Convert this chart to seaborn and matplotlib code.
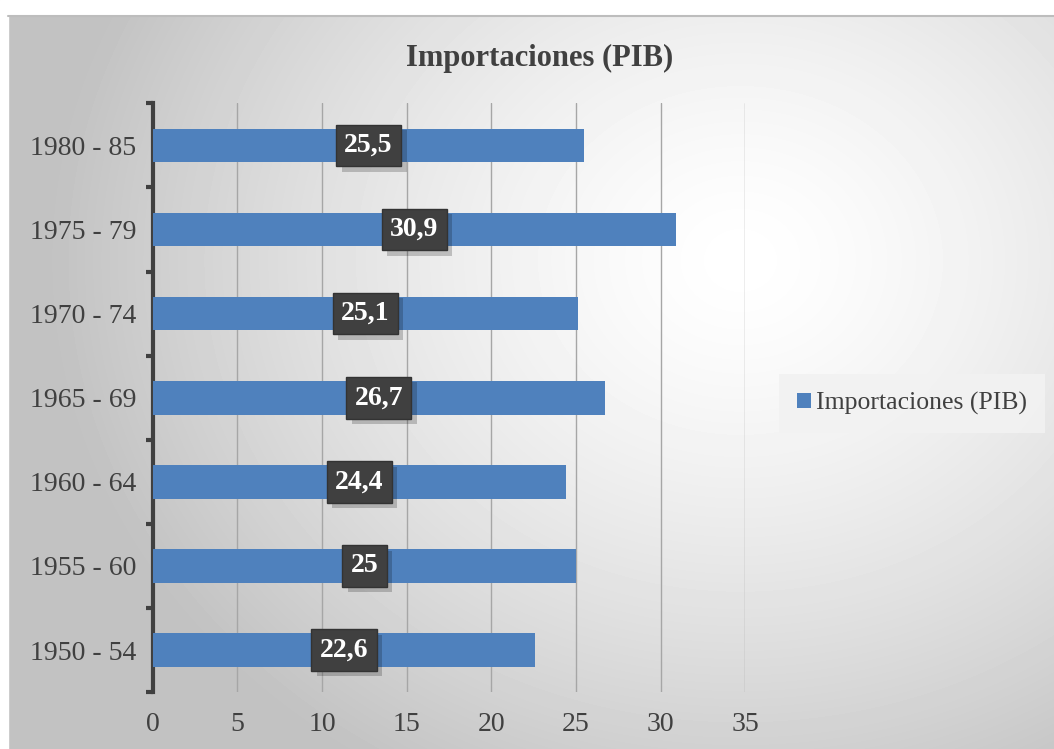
import numpy as np
import pandas as pd
import seaborn as sns
import matplotlib.pyplot as plt
import matplotlib.patheffects as pe
from matplotlib.patches import Rectangle

# Values (top to bottom)
periods = ['1980 - 85', '1975 - 79', '1970 - 74', '1965 - 69', '1960 - 64', '1955 - 60', '1950 - 54']
imports = [25.5, 30.9, 25.1, 26.7, 24.4, 25.0, 22.6]
labels = ['25,5', '30,9', '25,1', '26,7', '24,4', '25', '22,6']
x_ticks = [0, 5, 10, 15, 20, 25, 30, 35]

df = pd.DataFrame({'Periodo': periods, 'Importaciones (PIB)': imports})

sns.set_style('white')
plt.rcParams['font.family'] = ['Liberation Serif', 'DejaVu Serif']

fig = plt.figure(figsize=(10.54, 7.49), dpi=100)

# radial grey gradient background, white near the middle-right
bg = fig.add_axes([0, 0, 1, 1], zorder=-10)
yy, xx = np.mgrid[0:749, 0:1054]
d = np.sqrt(((xx - 740) / 650.0) ** 2 + ((yy - 260) / 560.0) ** 2)
shade = np.clip(1.0 - 0.22 * d ** 1.4, 0.76, 1.0)
bg.imshow(shade, cmap='gray', vmin=0, vmax=1, aspect='auto', extent=[0, 1054, 749, 0])
bg.add_patch(Rectangle((0, 0), 1054, 15, color='white'))
bg.add_patch(Rectangle((0, 0), 8, 749, color='white'))
bg.plot([8, 1054], [15.5, 15.5], color='#bdbdbd', lw=1.5)
bg.set_xlim(0, 1054)
bg.set_ylim(749, 0)
bg.axis('off')

ax = fig.add_axes([0.145, 0.076, 0.562, 0.786])
ax.patch.set_alpha(0)
sns.barplot(data=df, x='Importaciones (PIB)', y='Periodo', orient='h', color='#4f81bd',
            width=0.4, saturation=1, ax=ax, label='Importaciones (PIB)', zorder=3,
            edgecolor='none', linewidth=0)

for i, (v, t) in enumerate(zip(imports, labels)):
    txt = ax.text(v / 2, i, t, ha='center', va='center', color='white', fontsize=20,
                  fontweight='bold', zorder=5,
                  bbox=dict(boxstyle='square,pad=0.3', facecolor='#404040', edgecolor='#333333'))
    # drop shadow under the label box
    txt.get_bbox_patch().set_path_effects([
        pe.SimplePatchShadow(offset=(4, -4), shadow_rgbFace='black', alpha=0.2), pe.Normal()])

ax.set_xlim(0, 35)
ax.set_ylim(6.5, -0.5)
ax.set_xticks(x_ticks)
ax.set_xticklabels([str(t) for t in x_ticks])
ax.xaxis.grid(True, color='#a6a6a6', lw=1, zorder=0)
ax.set_axisbelow(True)
ax.set_xlabel('')
ax.set_ylabel('')

# y-axis: heavy dark line with tick marks between categories
ax.set_yticks(range(len(periods)))
ax.set_yticklabels(periods)
ax.set_yticks(np.arange(-0.5, len(periods)), minor=True)
ax.tick_params(axis='y', which='major', left=False, length=0, pad=12, labelsize=20,
               labelcolor='#404040')
ax.tick_params(axis='y', which='minor', left=True, length=5, width=3, color='#404040')
ax.tick_params(axis='x', bottom=False, length=0, pad=14, labelsize=20, labelcolor='#404040')
for s in ['top', 'right', 'bottom']:
    ax.spines[s].set_visible(False)
ax.spines['left'].set_color('#404040')
ax.spines['left'].set_linewidth(3)

fig.text(0.512, 0.922, 'Importaciones (PIB)', ha='center', va='center', fontsize=22,
         fontweight='bold', color='#404040')

leg = ax.legend(loc='center left', bbox_to_anchor=(1.07, 0.49), frameon=True, fontsize=18.5,
                handlelength=0.55, handleheight=0.55, handletextpad=0.2, borderpad=0.4,
                borderaxespad=0, labelcolor='#404040')
leg.get_frame().set_facecolor('#f2f2f2')
leg.get_frame().set_edgecolor('none')
leg.get_frame().set_alpha(0.9)
leg.get_frame().set_boxstyle('square')

fig.savefig('out.png', dpi=100)
